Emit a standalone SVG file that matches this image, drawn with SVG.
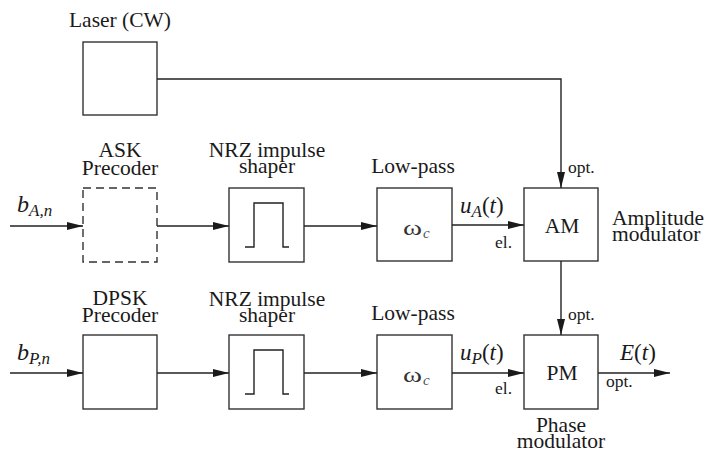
<svg xmlns="http://www.w3.org/2000/svg" width="712" height="458" viewBox="0 0 712 458" font-family="'Liberation Serif', 'Times New Roman', serif">
<defs>
<marker id="arr" markerUnits="userSpaceOnUse" markerWidth="16" markerHeight="8" refX="16" refY="4" orient="auto">
<path d="M0,0 L16,4 L0,8 Z" fill="#1a1a1a"/>
</marker>
<style>
text{font-family:'Liberation Serif','Times New Roman',serif;fill:#1a1a1a;font-size:21.5px}
.box{fill:#fff;stroke:#333;stroke-width:1.4}
.dash{stroke-dasharray:8,5}
.ln{fill:none;stroke:#222;stroke-width:1.4}
.arrow{fill:none;stroke:#222;stroke-width:1.4;marker-end:url(#arr)}
.sm{font-size:17.5px}
.math{font-size:23px}
.bm{font-size:24px}
.sub{font-size:17px}
.w{font-size:21px;fill:#333}
.wc{font-size:15px;fill:#555;font-style:italic}
.it{font-style:italic}
.c{text-anchor:middle}
</style>
</defs>
<rect width="712" height="458" fill="#fff"/>

<g id="laser">
<rect class="box" x="83" y="42" width="74" height="73"/>
<text class="c" x="120" y="27">Laser (CW)</text>
</g>

<g id="ask_precoder">
<rect class="box dash" x="83" y="188" width="74" height="74"/>
<text class="c" x="120" y="157">ASK</text>
<text class="c" x="120" y="175">Precoder</text>
</g>

<g id="nrz_a">
<rect class="box" x="229" y="188" width="75" height="74"/>
<path class="ln" d="M245,247 H254 V203 H283 V247 H289"/>
<text class="c" x="267" y="157">NRZ impulse</text>
<text class="c" x="267" y="173">shaper</text>
</g>

<g id="lowpass_a">
<rect class="box" x="377" y="188" width="75" height="73"/>
<text class="c" x="413" y="173">Low-pass</text>
<text class="w" x="403" y="235" textLength="19" lengthAdjust="spacingAndGlyphs">ω</text>
<text class="wc" x="423" y="238">c</text>
</g>

<g id="am">
<rect class="box" x="524" y="188" width="74" height="73"/>
<text class="c" x="562" y="233">AM</text>
<text x="612" y="225">Amplitude</text>
<text x="612" y="241">modulator</text>
</g>

<g id="dpsk_precoder">
<rect class="box" x="83" y="335" width="74" height="74"/>
<text class="c" x="120" y="305">DPSK</text>
<text class="c" x="120" y="322">Precoder</text>
</g>

<g id="nrz_p">
<rect class="box" x="229" y="335" width="75" height="74"/>
<path class="ln" d="M245,394 H254 V350 H283 V394 H289"/>
<text class="c" x="267" y="306">NRZ impulse</text>
<text class="c" x="267" y="322">shaper</text>
</g>

<g id="lowpass_p">
<rect class="box" x="377" y="335" width="75" height="74"/>
<text class="c" x="413" y="320">Low-pass</text>
<text class="w" x="403" y="382" textLength="19" lengthAdjust="spacingAndGlyphs">ω</text>
<text class="wc" x="423" y="385">c</text>
</g>

<g id="pm">
<rect class="box" x="524" y="335" width="74" height="74"/>
<text class="c" x="562" y="380">PM</text>
<text class="c" x="561" y="432">Phase</text>
<text class="c" x="561" y="448">modulator</text>
</g>

<g id="connectors">
<path class="arrow" d="M157,79 H561 V188"/>
<path class="arrow" d="M10,226 H83"/>
<path class="arrow" d="M157,226 H229"/>
<path class="arrow" d="M304,226 H377"/>
<path class="arrow" d="M452,225 H524"/>
<path class="arrow" d="M561,261 V335"/>
<path class="arrow" d="M10,373 H83"/>
<path class="arrow" d="M157,373 H229"/>
<path class="arrow" d="M304,373 H377"/>
<path class="arrow" d="M452,373 H524"/>
<path class="arrow" d="M598,373 H670"/>
<text class="it bm" x="17" y="212">b<tspan class="sub" dy="4">A,n</tspan></text>
<text class="it bm" x="17" y="360">b<tspan class="sub" dy="4">P,n</tspan></text>
<text class="math" x="460" y="213"><tspan class="it">u</tspan><tspan class="it sub" dy="4">A</tspan><tspan dy="-4">(</tspan><tspan class="it">t</tspan>)</text>
<text class="math" x="460" y="360"><tspan class="it">u</tspan><tspan class="it sub" dy="4">P</tspan><tspan dy="-4">(</tspan><tspan class="it">t</tspan>)</text>
<text class="sm" x="495" y="248">el.</text>
<text class="sm" x="495" y="394">el.</text>
<text class="sm" x="568" y="173">opt.</text>
<text class="sm" x="568" y="320">opt.</text>
<text class="sm" x="606" y="387">opt.</text>
<text class="math" x="620" y="360"><tspan class="it">E</tspan>(<tspan class="it">t</tspan>)</text>
</g>
</svg>
